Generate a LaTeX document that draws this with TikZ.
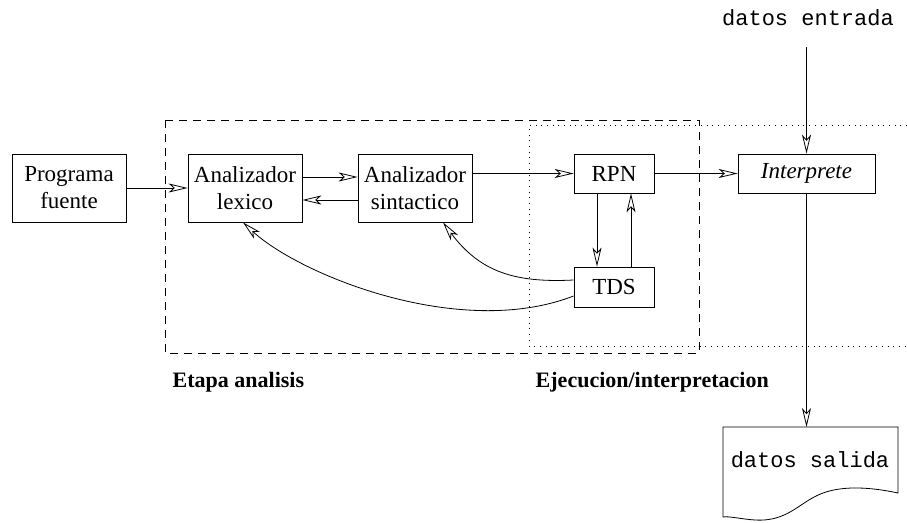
\documentclass[tikz,border=0pt]{standalone}
\usepackage{fontspec}
\setmainfont{Liberation Serif}
\setmonofont{Liberation Mono}
\usetikzlibrary{arrows.meta}
\begin{document}
\begin{tikzpicture}[x=1pt,y=-1pt,line width=0.8pt,
  every node/.style={font=\fontsize{23}{27}\selectfont},
  box/.style={draw,align=center,inner sep=0pt,minimum width=114pt,minimum height=68pt},
  sbox/.style={draw,align=center,inner sep=0pt,minimum width=80pt,minimum height=39pt},
  arr/.style={-{Stealth[open,length=19pt,width=9pt,inset=5pt]}},
  region/.style={dash pattern=on 8pt off 6pt},
  dotregion/.style={dash pattern=on 1pt off 4.7pt},
  lbl/.style={font=\fontsize{22}{26.5}\selectfont\bfseries,anchor=west}]
\useasboundingbox (0,0) rectangle (907,522);

% regions
\draw[region] (165,120) rectangle (699,353);
\draw[dotregion] (907,125) -- (529,125) -- (529,346) -- (907,346);

% nodes
\node[box] (prog) at (69,188) {Programa\\fuente};
\node[box] (lex) at (245,188) {Analizador\\lexico};
\node[box] (sin) at (415,188) {Analizador\\sintactico};
\node[sbox] (rpn) at (614,173.5) {RPN};
\node[sbox,minimum height=40pt] (tds) at (614,287) {TDS};
\node[draw,inner sep=0pt,minimum width=137pt,minimum height=39pt,font=\fontsize{23}{27}\selectfont\itshape] (int) at (806.5,173.5) {Interprete};
\node[font=\fontsize{22}{26.5}\selectfont\ttfamily] (entrada) at (808,18) {datos entrada};
\coordinate (ein) at (806.5,47);

% document shape
\draw (723,517) -- (723,427) -- (898,427) -- (898,493)
  .. controls (870,487) and (845,486) .. (826,492)
  .. controls (800,500) and (790,522) .. (755,520)
  .. controls (740,519) and (730,516) .. (723,517);
\coordinate (stop) at (806.5,427);
\node[font=\fontsize{22}{26.5}\selectfont\ttfamily] (salida) at (810,460) {datos salida};

% labels
\node[lbl] (etapa) at (169,382) {Etapa analisis};
\node[lbl] (ejec) at (532,382) {Ejecucion/interpretacion};

% connectors
\draw[arr] (prog) -- (lex);
\draw[arr] ([yshift=11pt]lex.east) -- ([yshift=11pt]sin.west);
\draw[arr] ([yshift=-12pt]sin.west) -- ([yshift=-12pt]lex.east);
\draw[arr] (sin.east |- rpn.west) -- (rpn.west);
\draw[arr] (rpn) -- (int);
\draw[arr] ([xshift=-17pt]rpn.south) -- ([xshift=-17pt]tds.north);
\draw[arr] ([xshift=17pt]tds.north) -- ([xshift=17pt]rpn.south);
\draw[arr] ([yshift=7pt]tds.west) .. controls (515,283) and (480,272) .. ([xshift=28pt]sin.south);
\draw[arr] ([yshift=-9pt]tds.west) .. controls (460,340) and (300,275) .. ([xshift=-2pt]lex.south);
\draw[arr] (ein) -- (int.north);
\draw[arr] (int.south) -- (stop);
\end{tikzpicture}
\end{document}
